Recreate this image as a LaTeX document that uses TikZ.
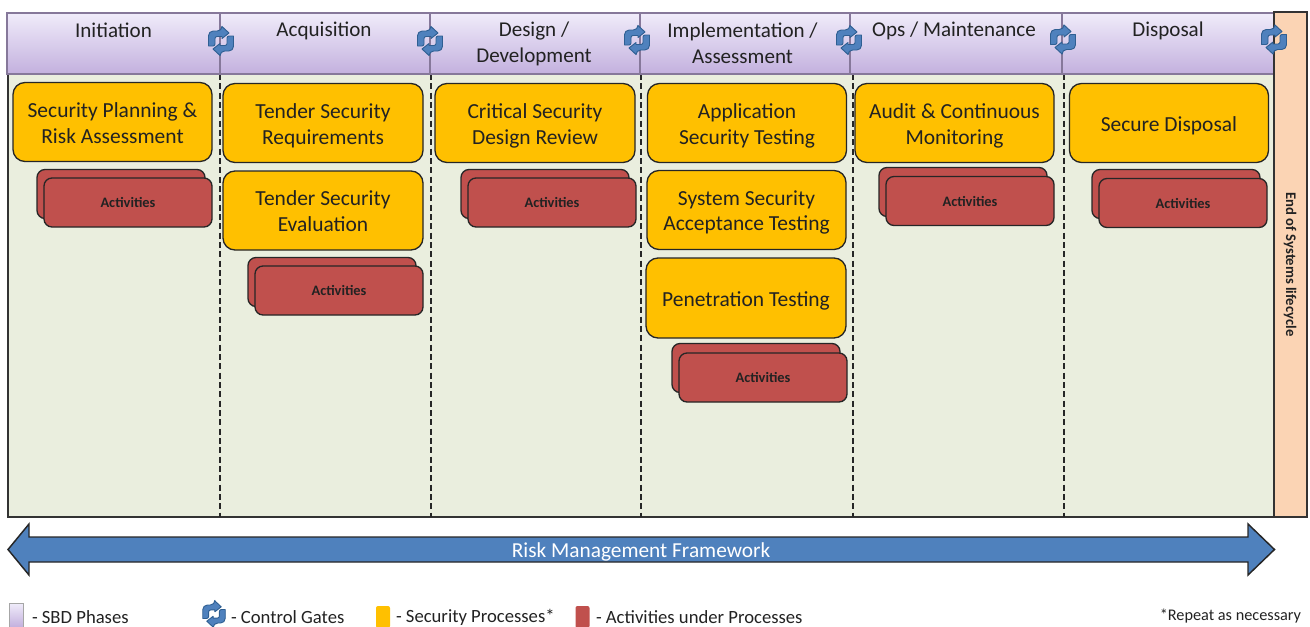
\documentclass[tikz,border=0pt]{standalone}
\usepackage{fontspec}
\setmainfont{Carlito}
\usetikzlibrary{shadings}
\definecolor{phasetop}{HTML}{F0ECFA}
\definecolor{phasebot}{HTML}{C3B0DE}
\definecolor{phaseline}{HTML}{86789A}
\definecolor{panel}{HTML}{EAEEDE}
\definecolor{procfill}{HTML}{FFC000}
\definecolor{actfill}{HTML}{C0504D}
\definecolor{endfill}{HTML}{FBD4B4}
\definecolor{bluefill}{HTML}{4F81BD}
\definecolor{blueline}{HTML}{2F5F92}
\definecolor{ink}{HTML}{222222}
\newcommand{\PX}{0.75pt}
\tikzset{
  x=0.75pt,y=-0.75pt,
  every node/.style={inner sep=0pt,outer sep=0pt,text=ink,align=center},
  phasetext/.style={inner sep=0pt,align=center,text=ink,font=\fontsize{15.8}{19.5}\selectfont},
  phase/.style n args={3}{rectangle,draw=phaseline,line width=0.8pt,top color=phasetop,bottom color=phasebot,middle color=phasetop!50!phasebot,minimum height=61*\PX,label={[phasetext,xshift=#1*\PX,yshift=-#2*\PX]center:{#3}}},
  proctext/.style={inner sep=0pt,align=center,text=ink,font=\fontsize{16.1}{19.4}\selectfont},
  proc/.style 2 args={rectangle,rounded corners=9pt,draw=black!85,line width=1pt,fill=procfill,minimum height=79*\PX,minimum width=199*\PX,label={[proctext,yshift=-#1*\PX]center:{#2}}},
  act/.style={rectangle,rounded corners=6pt,draw=black!85,line width=1pt,fill=actfill,minimum height=49*\PX,minimum width=168*\PX,font=\fontsize{10.8}{12}\selectfont\bfseries},
  gatesh/.style={fill=bluefill,draw=blueline,line width=0.7pt,line join=round},
  legend/.style={anchor=west,font=\fontsize{14}{16}\selectfont},
  gate/.pic={
    \foreach \a in {0,180}{
      \path[gatesh,rotate=\a,rounded corners=3.5pt] (-12.5,5) -- (-12.5,-10) -- (1,-10) [sharp corners] -- (1,-14.5) -- (8,-8) -- (1,-2.5) -- (1,-4.5) [rounded corners=1.5pt] -- (-6,-4.5) -- (-6,5) [sharp corners] -- cycle;
    }
  }
}
\begin{document}
\begin{tikzpicture}
\useasboundingbox (0,0) rectangle (1310,626);
\clip (0,0) rectangle (1310,626);
% panel
\node[rectangle,draw=black!80,line width=1pt,fill=panel,minimum width=1266*\PX,minimum height=443*\PX] (panelbox) at (641,295.5) {};
% dashed phase dividers
\foreach \n/\x in {a/220,b/431,c/641,d/853,e/1064}{
  \coordinate (top\n) at (\x,74);
  \coordinate (bot\n) at (\x,517);
  \draw[black!85,line width=0.9pt,dash pattern=on 4.5pt off 2.5pt] (top\n) -- (bot\n);
}
% phases
\node[phase={0}{-13}{Initiation},minimum width=213*\PX] (p1) at (113.5,43.5) {};
\node[phase={-1}{-13}{Acquisition},minimum width=210*\PX] (p2) at (325,43.5) {};
\node[phase={-1}{0}{Design /\\Development},minimum width=210*\PX] (p3) at (535,43.5) {};
\node[phase={-2.5}{0}{Implementation /\\Assessment},minimum width=210*\PX] (p4) at (745,43.5) {};
\node[phase={-2}{-13}{Ops / Maintenance},minimum width=212*\PX] (p5) at (956,43.5) {};
\node[phase={0}{-13}{Disposal},minimum width=212*\PX] (p6) at (1168,43.5) {};
% end of lifecycle
\node[rectangle,draw=black!80,line width=1.2pt,fill=endfill,minimum width=33*\PX,minimum height=505*\PX] (endbar) at (1290.5,264.5) {};
\node[rotate=-90,font=\fontsize{11}{12}\selectfont\bfseries] (endtext) at (1290,264.5) {End of Systems lifecycle};
% gates
\pic at (221,41) {gate};
\pic at (430,41) {gate};
\pic at (637,40) {gate};
\pic at (849,40) {gate};
\pic at (1063,39.5) {gate};
\pic at (1274,39.5) {gate};
% processes
\node[proc={1}{Security Planning \&\\Risk Assessment}] (s1) at (112.5,122) {};
\node[proc={2.5}{Tender Security\\Requirements},minimum width=200*\PX] (s2) at (323,123) {};
\node[proc={1}{Tender Security\\Evaluation},minimum width=200*\PX] (s3) at (323,210.5) {};
\node[proc={2.5}{Critical Security\\Design Review},minimum width=200*\PX] (s4) at (535,123) {};
\node[proc={2.5}{Application\\Security Testing}] (s5) at (747,123) {};
\node[proc={2.5}{System Security\\Acceptance Testing}] (s6) at (746.5,210) {};
\node[proc={2.5}{Penetration Testing},minimum width=200*\PX,minimum height=80*\PX] (s7) at (746,298) {};
\node[proc={2.5}{Audit \& Continuous\\Monitoring}] (s8) at (954.5,123) {};
\node[proc={2.5}{Secure Disposal}] (s9) at (1169,123) {};
% activities
\foreach \n/\x/\y in {1/121/194,2/332/282,3/545/194,4/756/368,5/963/192,6/1176/194}{
  \node[act] (bk\n) at (\x,\y) {};
}
\node[act] (ac1) at (128,202.5) {Activities};
\node[act] (ac2) at (339,290.5) {Activities};
\node[act] (ac3) at (552,202.5) {Activities};
\node[act] (ac4) at (763,377.5) {Activities};
\node[act] (ac5) at (970,201) {Activities};
\node[act] (ac6) at (1183,203) {Activities};
% framework arrow
\path[fill=bluefill,draw=black!85,line width=1.1pt,line join=miter] (8,549.5) -- (29,524) -- (29,537) -- (1248,537) -- (1248,524) -- (1274.5,549.5) -- (1248,575) -- (1248,562) -- (29,562) -- (29,575) -- cycle;
\node[text=white,font=\fontsize{16}{18}\selectfont] (rmf) at (641,551.5) {Risk Management Framework};
% legend
\node[rectangle,draw=black!35,line width=0.5pt,top color=phasetop,bottom color=phasebot,minimum width=14*\PX,minimum height=24*\PX] (lg1) at (16,615) {};
\node[legend] (lt1) at (32,617) {- SBD Phases};
\pic[scale=0.9] at (214,614) {gate};
\node[legend] (lt2) at (231,617.5) {- Control Gates};
\node[rectangle,rounded corners=1.5pt,fill=procfill,minimum width=14*\PX,minimum height=22*\PX] (lg3) at (383,617) {};
\node[legend] (lt3) at (396,617.5) {- Security Processes*};
\node[rectangle,rounded corners=1.5pt,fill=actfill,minimum width=14*\PX,minimum height=22*\PX] (lg4) at (582.5,617) {};
\node[legend] (lt4) at (596,617.5) {- Activities under Processes};
\node[anchor=east,font=\fontsize{12.2}{14}\selectfont] (note) at (1301,616) {*Repeat as necessary};
\end{tikzpicture}
\end{document}
